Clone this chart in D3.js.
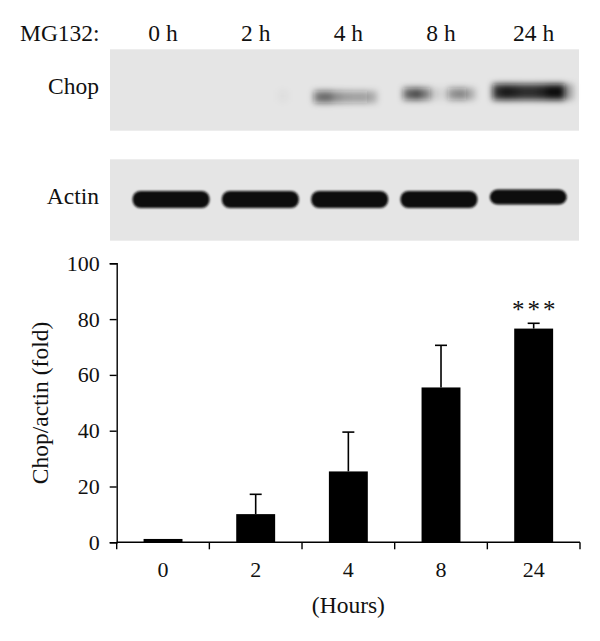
<!DOCTYPE html>
<html>
<head>
<meta charset="utf-8">
<script src="https://cdn.jsdelivr.net/npm/d3@7"></script>
<style>
  html, body { margin: 0; padding: 0; background: #fff; }
  svg { display: block; }
  text { font-family: "Liberation Serif", "DejaVu Serif", serif; fill: #111; }
</style>
</head>
<body>
<svg id="chart" width="600" height="641"></svg>
<script>
// ---- data ----
const treatmentLabel = "MG132:";
const laneLabels = ["0 h", "2 h", "4 h", "8 h", "24 h"];
const hours = ["0", "2", "4", "8", "24"];
const foldMean = [1.2, 10.1, 25.4, 55.5, 76.6];
const foldErr = [0, 7.1, 14.1, 15.1, 1.9];
const significance = ["", "", "", "", "***"];
const yTicks = [0, 20, 40, 60, 80, 100];
const blotRows = ["Chop", "Actin"];
// densitometric profiles across each lane (10 samples per lane)
const chopProfile = [
  [0, 0, 0, 0, 0, 0, 0, 0, 0, 0],
  [0, 0, 0, 0, 0, 0, 0, 0.03, 0, 0],
  [0, 0.55, 0.58, 0.42, 0.35, 0.33, 0.33, 0.25, 0, 0],
  [0, 0.62, 0.72, 0.5, 0.1, 0.06, 0.4, 0.45, 0.25, 0],
  [0, 0.85, 0.95, 0.9, 0.85, 0.85, 0.9, 1, 1, 0.3]
];
const actinDensity = [1, 1, 1, 1, 1];

const svg = d3.select("#chart");
const bigFont = 23.5;
const tickFont = 22;

// ---- blot panels ----
const panelX = [110, 579];
const rowY = d3.scaleBand().domain(blotRows).range([49.3, 240.7]).paddingInner(0.26);
const laneX = d3.scaleBand().domain(laneLabels).range([126.4, 572.9]).paddingInner(0.115).paddingOuter(0.0575);

const defs = svg.append("defs");
defs.append("filter").attr("id", "blurChop").attr("x", "-20%").attr("y", "-60%").attr("width", "140%").attr("height", "220%")
  .append("feGaussianBlur").attr("stdDeviation", 3.2);
defs.append("filter").attr("id", "blurActin").attr("x", "-20%").attr("y", "-60%").attr("width", "140%").attr("height", "220%")
  .append("feGaussianBlur").attr("stdDeviation", 1.3);

svg.selectAll("rect.panel").data(blotRows).join("rect")
  .attr("class", "panel")
  .attr("x", panelX[0]).attr("width", panelX[1] - panelX[0])
  .attr("y", d => rowY(d)).attr("height", rowY.bandwidth())
  .attr("fill", "#e5e5e5");

// row labels
svg.selectAll("text.rowlab").data(blotRows).join("text")
  .attr("class", "rowlab")
  .attr("x", 99).attr("y", d => rowY(d) + rowY.bandwidth() * 0.55)
  .attr("text-anchor", "end").attr("font-size", bigFont)
  .text(d => d);

// Chop bands
const chopG = svg.append("g").attr("filter", "url(#blurChop)");
const chopCy = [96, 96, 97, 94, 92];
chopProfile.forEach((prof, i) => {
  const lane = laneLabels[i];
  const sx = d3.scaleBand().domain(d3.range(prof.length)).range([laneX(lane) - laneX.step() * 0.0575, laneX(lane) + laneX.bandwidth() + laneX.step() * 0.0575]);
  chopG.selectAll(null).data(prof).join("rect")
    .attr("x", (d, j) => sx(j)).attr("width", sx.bandwidth() + 0.5)
    .attr("y", chopCy[i] - 6 - (i === 4 ? 2 : 0)).attr("height", 12 + (i === 4 ? 4 : 0))
    .attr("fill", "#111").attr("fill-opacity", d => d);
});

// Actin bands
const actinG = svg.append("g").attr("filter", "url(#blurActin)");
actinG.selectAll("rect").data(actinDensity).join("rect")
  .attr("x", (d, i) => laneX(laneLabels[i]) + 1)
  .attr("width", laneX.bandwidth() - 2)
  .attr("y", (d, i) => i === 4 ? 189.5 : 191)
  .attr("height", (d, i) => i === 4 ? 15 : 17)
  .attr("rx", 8).attr("ry", 8)
  .attr("fill", "#0d0d0d").attr("fill-opacity", d => d);

// ---- bar chart ----
const x = d3.scaleBand().domain(hours).range([116.7, 580]).paddingInner(0.58).paddingOuter(0.29);
const y = d3.scaleLinear().domain([0, 100]).range([542.3, 263.3]);

// lane labels at top use same category centers
svg.append("text").attr("x", 20).attr("y", 41).attr("font-size", bigFont).text(treatmentLabel);
svg.selectAll("text.lane").data(laneLabels).join("text")
  .attr("class", "lane")
  .attr("x", (d, i) => x(hours[i]) + x.bandwidth() / 2)
  .attr("y", 41).attr("text-anchor", "middle").attr("font-size", bigFont)
  .text(d => d);

// bars
svg.selectAll("rect.bar").data(foldMean).join("rect")
  .attr("class", "bar")
  .attr("x", (d, i) => x(hours[i]))
  .attr("width", x.bandwidth())
  .attr("y", d => y(d))
  .attr("height", d => y(0) - y(d))
  .attr("fill", "#000");

// error bars
const errG = svg.append("g").attr("stroke", "#000").attr("stroke-width", 1.6);
foldMean.forEach((m, i) => {
  if (!foldErr[i]) return;
  const cx = x(hours[i]) + x.bandwidth() / 2;
  errG.append("line").attr("x1", cx).attr("x2", cx).attr("y1", y(m)).attr("y2", y(m + foldErr[i]));
  errG.append("line").attr("x1", cx - 6).attr("x2", cx + 6).attr("y1", y(m + foldErr[i])).attr("y2", y(m + foldErr[i]));
});

// significance
svg.selectAll("text.sig").data(significance).join("text")
  .attr("class", "sig")
  .attr("x", (d, i) => x(hours[i]) + x.bandwidth() / 2 + 1.5)
  .attr("y", (d, i) => y(foldMean[i] + foldErr[i]) - 5)
  .attr("text-anchor", "middle").attr("font-size", 25).attr("letter-spacing", 3)
  .text(d => d);

// y axis
const yAxis = d3.axisLeft(y).tickValues(yTicks).tickSize(7).tickPadding(10);
const gy = svg.append("g").attr("transform", `translate(${116.7},0)`).call(yAxis);
gy.select(".domain").attr("stroke", "#000").attr("stroke-width", 1.4);
gy.selectAll(".tick line").attr("stroke", "#000").attr("stroke-width", 1.4);
gy.selectAll(".tick text").attr("font-family", '"Liberation Serif", serif').attr("font-size", tickFont).attr("fill", "#111");

// x axis (ticks at category boundaries)
const gx = svg.append("g").attr("transform", `translate(0,${542.3})`);
gx.append("line").attr("x1", 116.7).attr("x2", 580).attr("stroke", "#000").attr("stroke-width", 1.4);
const bounds = hours.map(h => x(h) - x.step() * 0.29).concat([580]);
gx.selectAll("line.tk").data(bounds).join("line")
  .attr("class", "tk").attr("x1", d => d).attr("x2", d => d).attr("y1", 0).attr("y2", 7)
  .attr("stroke", "#000").attr("stroke-width", 1.4);
gx.selectAll("text").data(hours).join("text")
  .attr("x", d => x(d) + x.bandwidth() / 2).attr("y", 35)
  .attr("text-anchor", "middle").attr("font-size", tickFont)
  .text(d => d);

// axis titles
svg.append("text").attr("x", 348.4).attr("y", 613).attr("text-anchor", "middle").attr("font-size", bigFont).text("(Hours)");
svg.append("text").attr("transform", `translate(48,403) rotate(-90)`)
  .attr("text-anchor", "middle").attr("font-size", bigFont).text("Chop/actin (fold)");
</script>
</body>
</html>
